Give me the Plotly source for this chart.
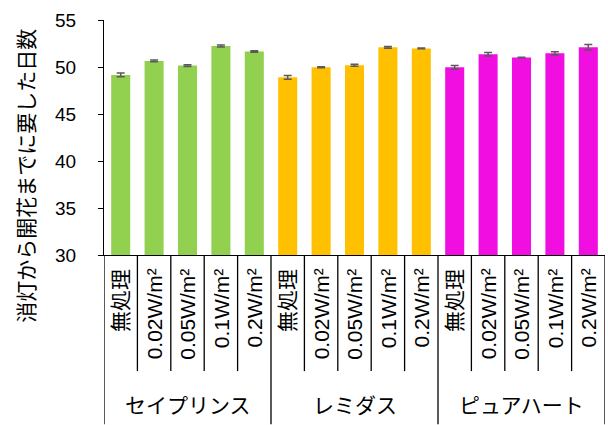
import plotly.graph_objects as go

groups = ["セイプリンス", "レミダス", "ピュアハート"]
treatments = ["無処理", "0.02W/m²", "0.05W/m²", "0.1W/m²", "0.2W/m²"]
values = {
    "セイプリンス": [49.15, 50.65, 50.15, 52.23, 51.66],
    "レミダス": [48.9, 49.97, 50.18, 52.09, 51.98],
    "ピュアハート": [49.97, 51.35, 51.02, 51.45, 52.09],
}
errors = {
    "セイプリンス": [0.2, 0.1, 0.1, 0.1, 0.08],
    "レミダス": [0.2, 0.05, 0.1, 0.1, 0.05],
    "ピュアハート": [0.2, 0.18, 0.03, 0.18, 0.3],
}
colors = {"セイプリンス": "#92D050", "レミダス": "#FFC000", "ピュアハート": "#F00FE0"}
y_ticks = [30, 35, 40, 45, 50, 55]
y_title = "消灯から開花までに要した日数"

FONT = "Liberation Sans, Arial, Noto Sans CJK JP"
JFONT = "Noto Sans CJK JP, Liberation Sans"

fig = go.Figure()
cats_all = []
for g in groups:
    cats = [f"{g}|{t}" for t in treatments]
    cats_all += cats
    fig.add_trace(go.Bar(
        x=cats, y=values[g], marker_color=colors[g], marker_line_width=0,
        error_y=dict(type="data", array=errors[g], visible=True,
                     color="#5a5a5a", thickness=1.5, width=4),
        showlegend=False,
    ))

annotations = []
shapes = []
for i, c in enumerate(cats_all):
    t = c.split("|")[1]
    annotations.append(dict(x=c, xref="x", y=-0.05, yref="paper", text=t,
                            textangle=-90, showarrow=False, yanchor="top",
                            xanchor="center", font=dict(family=FONT, size=21, color="black")))
for i in range(len(cats_all) + 1):
    outer = (i % len(treatments) == 0)
    shapes.append(dict(type="line", xref="x", yref="paper", x0=i - 0.5, x1=i - 0.5,
                       y0=0, y1=-0.72 if outer else -0.494,
                       line=dict(color="black", width=1.3)))
for gi, g in enumerate(groups):
    annotations.append(dict(x=cats_all[gi * len(treatments) + 2], xref="x", y=-0.633, yref="paper",
                            text=g, showarrow=False, yanchor="middle", xanchor="center",
                            font=dict(family=JFONT, size=21, color="black")))
annotations.append(dict(x=-0.158, xref="paper", y=0.337, yref="paper", text=y_title,
                        textangle=-90, showarrow=False, xanchor="center", yanchor="middle",
                        font=dict(family=JFONT, size=21, color="black")))

fig.update_layout(
    width=608, height=425,
    margin=dict(l=104, r=3, t=19.5, b=169.5),
    plot_bgcolor="white", paper_bgcolor="white",
    bargap=0.43,
    annotations=annotations, shapes=shapes,
    xaxis=dict(type="category", range=[-0.5, 14.5], showticklabels=False, ticks="",
               showline=True, linecolor="black", linewidth=1.3, showgrid=False, zeroline=False),
    yaxis=dict(range=[30, 55], tickvals=y_ticks, ticks="outside", ticklen=5, tickcolor="black",
               showline=True, linecolor="black", linewidth=1.3, showgrid=False, zeroline=False,
               tickfont=dict(family=FONT, size=19, color="black"), ticklabelstandoff=18),
)
fig.write_html("out.html")
